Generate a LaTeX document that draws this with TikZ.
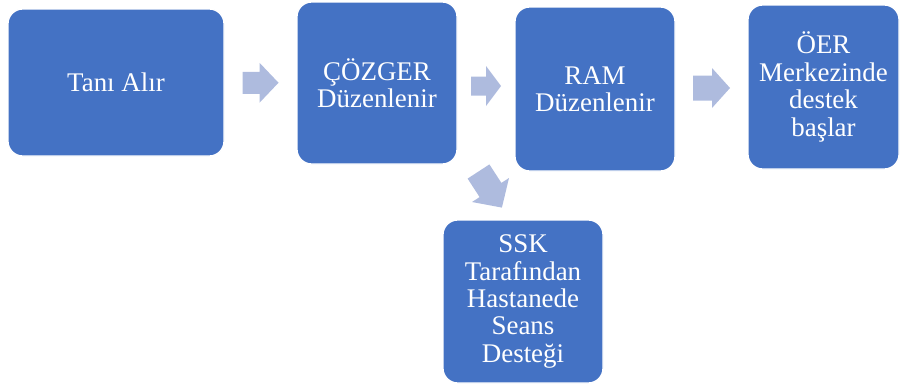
\documentclass[tikz,border=0pt]{standalone}
\usepackage{fontspec}
\setmainfont{Liberation Serif}
\usetikzlibrary{calc}

\definecolor{boxblue}{RGB}{68,114,196}
\definecolor{arrowblue}{RGB}{174,187,222}

\tikzset{every picture/.style={line width=0.75pt}}
\tikzset{
  stepbox/.style={draw=white, line width=1pt, fill=boxblue, rounded corners=11pt,
    inner sep=0pt, align=center, text=white, font=\fontsize{20.2}{20.6}\selectfont},
  blockarrow/.style={fill=arrowblue, draw=none}
}

\begin{document}
\begin{tikzpicture}[x=0.75pt,y=0.75pt,yscale=-1,xscale=1]
\useasboundingbox (0,0) rectangle (902,389);

%Rounded Rect
\node [stepbox, minimum width=162pt, minimum height=110.25pt] (tani) at (116,82.5) {Tanı Alır};
%Rounded Rect
\node [stepbox, minimum width=120pt, minimum height=121.5pt] (cozger) at (377,83) {ÇÖZGER\\Düzenlenir};
%Rounded Rect
\node [stepbox, minimum width=120pt, minimum height=123pt] (ram) at (595,89) {RAM\\Düzenlenir};
%Rounded Rect
\node [stepbox, minimum width=113.25pt, minimum height=123pt] (oer) at (823.5,87) {ÖER\\Merkezinde\\destek\\başlar};
%Rounded Rect
\node [stepbox, minimum width=120pt, minimum height=122.25pt] (ssk) at (523,301.5) {SSK\\Tarafından\\Hastanede\\Seans\\Desteği};

%Block Arrows
\coordinate (a1) at ($(tani.east)!0.5!(cozger.west)$);
\coordinate (a2) at ($(cozger.east)!0.5!(ram.west)$);
\coordinate (a3) at ($(ram.east)!0.5!(oer.west)$);
\coordinate (a4) at (478.5,171.5);

\fill [blockarrow] (a1) +(-18,-11) -- +(-1,-11) -- +(-1,-20) -- +(18,0) -- +(-1,20) -- +(-1,11) -- +(-18,11) -- cycle ;
\fill [blockarrow] (a2) +(-15,-9.5) -- +(0,-9.5) -- +(0,-20) -- +(15,0) -- +(0,20) -- +(0,9.5) -- +(-15,9.5) -- cycle ;
\fill [blockarrow] (a3) +(-18.5,-12.5) -- +(0.5,-12.5) -- +(0.5,-20) -- +(18.5,0) -- +(0.5,20) -- +(0.5,12.5) -- +(-18.5,12.5) -- cycle ;
\fill [blockarrow] (a4) +(10.9,-7.1) -- +(22.9,11.4) -- +(30.5,6.5) -- +(23.4,36.1) -- +(-6.5,30.5) -- +(1.1,25.6) -- +(-10.9,7.1) -- cycle ;

\end{tikzpicture}
\end{document}
